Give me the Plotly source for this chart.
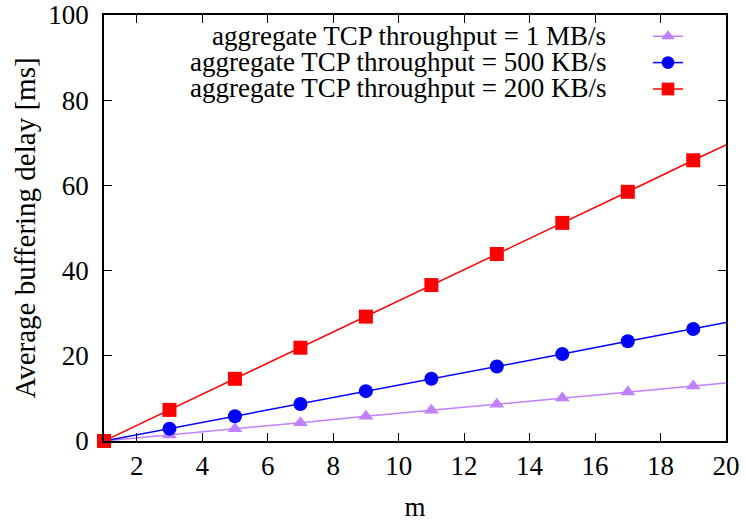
import plotly.graph_objects as go

m = [1, 3, 5, 7, 9, 11, 13, 15, 17, 19, 20]
delay_1mb = [0, 1.4, 2.9, 4.3, 5.8, 7.2, 8.6, 10.1, 11.5, 12.9, 13.6]
delay_500kb = [0, 2.9, 5.8, 8.7, 11.7, 14.6, 17.5, 20.4, 23.4, 26.3, 27.8]
delay_200kb = [0, 7.3, 14.6, 21.9, 29.2, 36.6, 43.9, 51.2, 58.5, 65.9, 69.5]
names = ["aggregate TCP throughput = 1 MB/s",
         "aggregate TCP throughput = 500 KB/s",
         "aggregate TCP throughput = 200 KB/s"]
x_ticks = [2, 4, 6, 8, 10, 12, 14, 16, 18, 20]
y_ticks = [0, 20, 40, 60, 80, 100]

FONT = "Liberation Serif"
W, H = 746, 522
L, R, T, B = 104, 20, 15, 81

series = [
    (delay_1mb, "#c080ff", "triangle-up", 13),
    (delay_500kb, "#0000ff", "circle", 14),
    (delay_200kb, "#ff0000", "square", 14),
]

fig = go.Figure()
for (vals, col, sym, sz), nm in zip(series, names):
    sizes = [sz] * (len(m) - 1) + [0]
    fig.add_trace(go.Scatter(
        x=m, y=vals, name=" ", mode="lines+markers",
        line=dict(color=col, width=1.5),
        marker=dict(symbol=sym, size=sizes, color=col, opacity=1, line=dict(width=0)),
        cliponaxis=False,
    ))

axis_common = dict(
    showline=True, linecolor="black", linewidth=1.5, mirror="allticks",
    ticks="inside", ticklen=8, tickwidth=1, tickcolor="black",
    showgrid=False, zeroline=False, automargin=False,
    tickfont=dict(family=FONT, size=27, color="#000000"),
)

fig.update_xaxes(range=[1, 20], tickvals=x_ticks,
                 title=dict(text="m", font=dict(family=FONT, size=27, color="#000000"), standoff=20),
                 **axis_common)
fig.update_yaxes(range=[0, 100], tickvals=y_ticks, ticklabelstandoff=8,
                 title=dict(text="Average buffering delay [ms]", font=dict(family=FONT, size=29, color="#000000"), standoff=4),
                 **axis_common)

pw = W - L - R
ph = H - T - B
row_y = [36, 62, 88]
for nm, yy in zip(names, row_y):
    fig.add_annotation(
        x=(608 - L) / pw, y=1 - (yy - T) / ph, xref="paper", yref="paper",
        text=nm, showarrow=False, xanchor="right", yanchor="middle",
        font=dict(family=FONT, size=27, color="#000000"),
    )

fig.update_layout(
    width=W, height=H,
    margin=dict(l=L, r=R, t=T, b=B),
    paper_bgcolor="white", plot_bgcolor="white",
    showlegend=True,
    legend=dict(
        x=(694 - L + 4) / pw, y=1 - (31 - T - 13) / ph,
        xanchor="right", yanchor="top",
        bgcolor="rgba(0,0,0,0)", font=dict(family=FONT, size=18),
        tracegroupgap=0, itemwidth=30,
    ),
)

fig.write_html("out.html")
